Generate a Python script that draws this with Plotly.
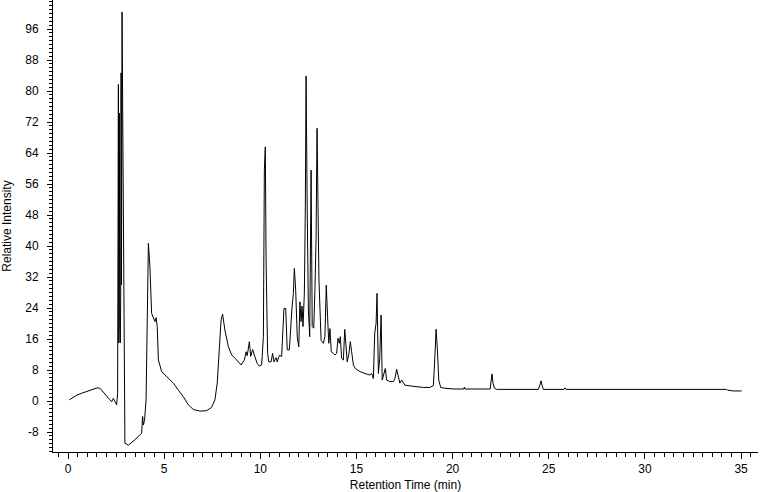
import plotly.graph_objects as go

# Retention time (min) and relative intensity
retention_time = [
    0.07, 0.45, 0.71, 0.97, 1.23, 1.52, 1.66, 1.84, 2.01, 2.18, 2.27, 2.36, 2.44, 2.53, 2.58,
    2.62, 2.64, 2.67, 2.69, 2.72, 2.74, 2.76, 2.78, 2.81, 2.84, 2.90, 2.96, 3.14, 3.48, 3.83,
    3.88, 3.92, 3.98, 4.06, 4.11, 4.18, 4.26, 4.35, 4.52, 4.58, 4.64, 4.70, 4.87, 5.13, 5.48,
    5.74, 6.00, 6.26, 6.52, 6.86, 7.21, 7.47, 7.64, 7.76, 7.87, 7.96, 8.04, 8.16, 8.34, 8.51,
    8.77, 9.00, 9.17, 9.26, 9.32, 9.43, 9.50, 9.60, 9.72, 9.84, 9.95, 10.07, 10.16, 10.21, 10.26,
    10.30, 10.38, 10.44, 10.56, 10.64, 10.71, 10.82, 10.88, 10.99, 11.11, 11.23, 11.32, 11.40, 11.51, 11.58,
    11.65, 11.72, 11.77, 11.84, 11.92, 12.00, 12.06, 12.12, 12.17, 12.22, 12.29, 12.34, 12.38, 12.44, 12.50,
    12.57, 12.64, 12.70, 12.78, 12.84, 12.90, 12.95, 13.00, 13.05, 13.16, 13.28, 13.36, 13.43, 13.50, 13.56,
    13.62, 13.69, 13.80, 13.88, 13.97, 14.04, 14.11, 14.16, 14.23, 14.32, 14.39, 14.46, 14.52, 14.61, 14.68,
    14.75, 14.84, 14.94, 15.18, 15.44, 15.70, 15.79, 15.88, 15.95, 16.02, 16.07, 16.14, 16.21, 16.28, 16.34,
    16.43, 16.50, 16.57, 16.74, 16.92, 17.00, 17.09, 17.18, 17.26, 17.35, 17.44, 17.52, 17.78, 18.13, 18.48,
    18.82, 19.00, 19.07, 19.14, 19.21, 19.28, 19.38, 19.60, 20.04, 20.58, 20.61, 20.64, 21.95, 22.00, 22.05,
    22.10, 22.17, 22.29, 24.46, 24.54, 24.60, 24.65, 24.72, 25.80, 25.85, 25.90, 34.25, 34.30, 34.60,
    35.03,
]
relative_intensity = [
    0.3, 1.5, 2.0, 2.4, 3.0, 3.4, 3.3, 2.4, 1.3, 0.3, -0.2, 0.7, -0.2, -1.0, 2.0,
    81.7, 15.0, 74.3, 20.0, 15.0, 26.0, 84.7, 30.0, 100.4, 70.8, 20.0, -10.9, -11.4, -10.0, -8.3,
    -4.0, -6.2, -5.0, 0.3, 20.0, 40.7, 34.7, 22.6, 20.5, 21.5, 19.2, 10.6, 7.6, 6.3, 4.6,
    2.8, 1.1, -1.0, -2.2, -2.6, -2.5, -1.6, 0.3, 4.6, 13.2, 20.9, 22.4, 18.3, 14.0, 11.9,
    10.6, 9.3, 10.6, 12.7, 11.7, 15.3, 11.5, 13.3, 11.4, 9.7, 9.0, 9.3, 16.6, 59.6, 65.6,
    36.4, 12.3, 10.1, 10.1, 12.3, 10.1, 11.2, 10.1, 11.8, 11.5, 23.9, 23.9, 13.2, 13.2, 20.1,
    24.3, 27.8, 34.2, 28.6, 16.6, 14.0, 25.6, 20.5, 24.5, 19.2, 27.8, 49.3, 83.9, 49.3, 23.5,
    16.6, 59.6, 19.2, 18.8, 28.6, 42.0, 70.4, 49.3, 31.2, 15.7, 14.9, 16.6, 29.9, 21.5, 14.9,
    18.7, 12.7, 12.3, 11.9, 12.3, 16.2, 14.9, 16.6, 11.0, 10.6, 18.5, 13.2, 10.1, 12.3, 15.3,
    12.7, 9.3, 8.4, 7.6, 7.1, 6.7, 7.1, 5.8, 17.5, 20.1, 27.8, 7.1, 11.0, 22.2, 5.4,
    7.1, 8.4, 5.4, 5.0, 5.0, 5.8, 8.2, 5.8, 4.6, 5.4, 4.7, 4.1, 3.9, 3.7, 3.5,
    3.5, 4.0, 10.6, 18.5, 13.2, 5.4, 3.5, 3.3, 3.1, 3.1, 3.6, 3.1, 3.1, 4.6, 7.0,
    4.6, 3.3, 3.0, 3.0, 4.1, 5.2, 4.1, 3.0, 3.0, 3.4, 3.0, 3.0, 2.8, 2.6,
    2.6,
]

x_tick_values = [0, 5, 10, 15, 20, 25, 30, 35]
y_tick_values = [-8, 0, 8, 16, 24, 32, 40, 48, 56, 64, 72, 80, 88, 96]

FONT = "Liberation Sans, Arial, sans-serif"

fig = go.Figure(
    go.Scatter(
        x=retention_time,
        y=relative_intensity,
        mode="lines",
        line=dict(color="black", width=1),
        hoverinfo="x+y",
    )
)

fig.update_layout(
    width=760,
    height=492,
    margin=dict(l=53, r=2, t=0, b=40),
    paper_bgcolor="white",
    plot_bgcolor="white",
    showlegend=False,
    font=dict(family=FONT, size=12, color="black"),
)

fig.update_xaxes(
    range=[-0.78, 35.88],
    automargin=False,
    tickvals=x_tick_values,
    ticktext=[str(v) for v in x_tick_values],
    ticks="outside",
    ticklen=6,
    tickwidth=1,
    tickcolor="black",
    minor=dict(dtick=0.5, tick0=0, ticks="outside", ticklen=4, tickcolor="black", tickwidth=1),
    showline=True,
    linecolor="black",
    linewidth=1,
    showgrid=False,
    zeroline=False,
    title=dict(text="Retention Time (min)", font=dict(size=12)),
    tickfont=dict(size=12),
)

fig.update_yaxes(
    range=[-13.16, 103.5],
    automargin=False,
    tickvals=y_tick_values,
    ticktext=[str(v) for v in y_tick_values],
    ticks="outside",
    ticklen=5,
    tickwidth=1,
    tickcolor="black",
    minor=dict(dtick=1, tick0=0, ticks="outside", ticklen=3, tickcolor="black", tickwidth=1),
    showline=True,
    linecolor="black",
    linewidth=1,
    showgrid=False,
    zeroline=False,
    ticklabelstandoff=6,
    title=dict(text="Relative Intensity", font=dict(size=12)),
    tickfont=dict(size=12),
)

fig.write_html(
    "out.html",
    config={"displayModeBar": False},
    post_script="document.body.style.margin='0';document.body.style.padding='0';",
)
